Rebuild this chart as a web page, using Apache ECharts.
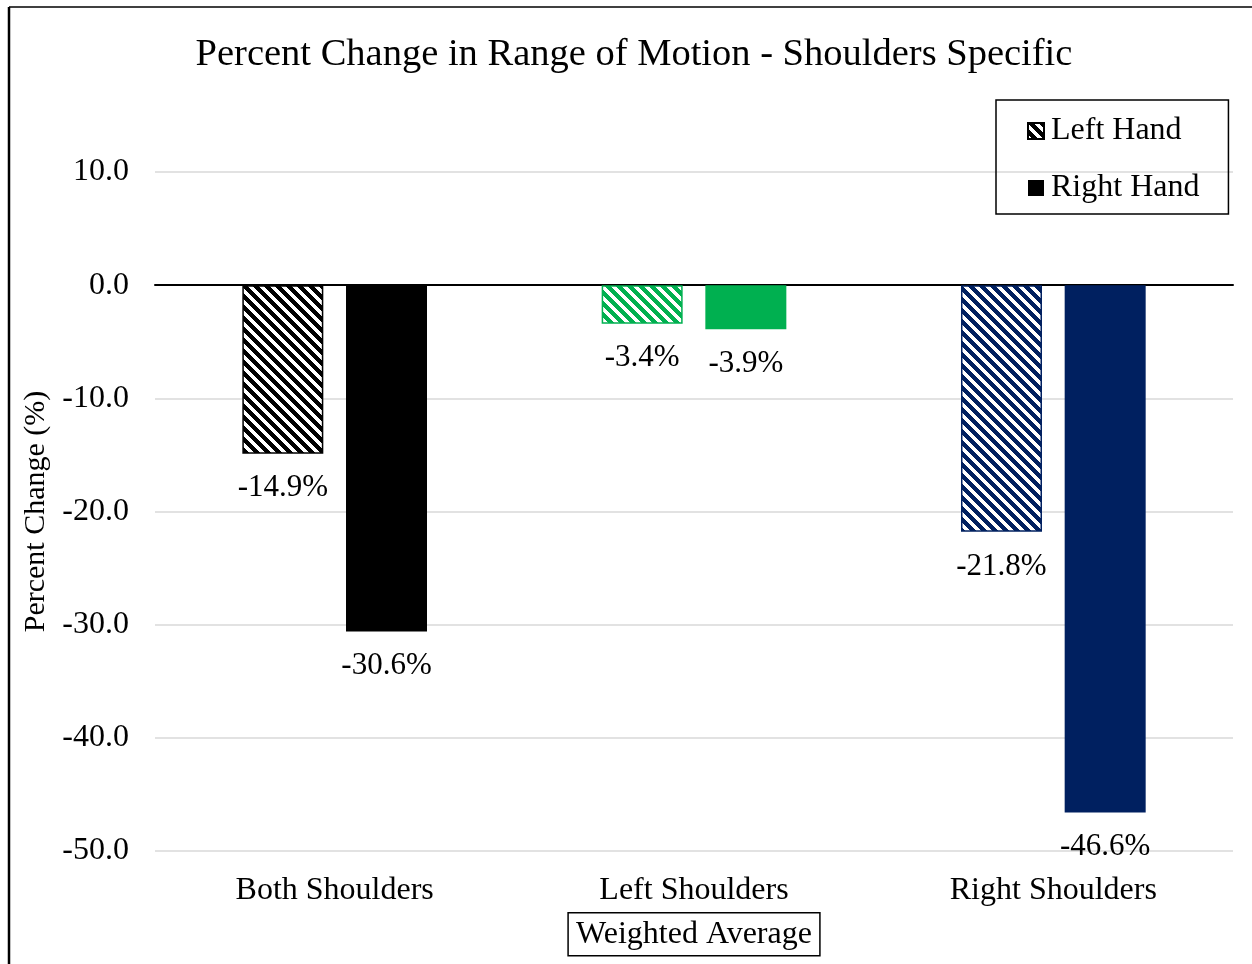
<!DOCTYPE html>
<html>
<head>
<meta charset="utf-8">
<script src="https://cdn.jsdelivr.net/npm/echarts@6/dist/echarts.min.js"></script>
<style>
  html, body { margin: 0; padding: 0; background: #fff; }
  #chart { width: 1252px; height: 964px; }
</style>
</head>
<body>
<div id="chart"></div>
<script>
// data
const categories = ['Both Shoulders', 'Left Shoulders', 'Right Shoulders']
const leftHand = [-14.9, -3.4, -21.8]
const rightHand = [-30.6, -3.9, -46.6]
const groupColors = ['#000000', '#00B050', '#002060']
const yTicks = { min: -50, max: 10, interval: 10 }

const FONT = '"Liberation Serif", "Times New Roman", serif'

// diagonal stripe fill, like Excel's wide downward diagonal
const stripes = (color) => {
  const size = 11
  const c = document.createElement('canvas')
  c.width = size
  c.height = size
  const ctx = c.getContext('2d')
  ctx.fillStyle = '#fff'
  ctx.fillRect(0, 0, size, size)
  ctx.fillStyle = color
  for (let y = 0; y < size; y++) {
    for (let x = 0; x < size; x++) {
      if ((((x - y) % size) + size) % size < 6) ctx.fillRect(x, y, 1, 1)
    }
  }
  return { image: c, repeat: 'repeat' }
}

const chart = echarts.init(document.getElementById('chart'))

const label = {
  show: true,
  position: 'bottom',
  distance: 19,
  formatter: p => p.value.toFixed(1) + '%',
  fontFamily: FONT,
  fontSize: 31,
  color: '#000'
}

const option = {
  backgroundColor: '#fff',
  animation: false,
  title: {
    text: 'Percent Change in Range of Motion - Shoulders Specific',
    left: 629,
    textAlign: 'center',
    top: 30,
    textStyle: { fontFamily: FONT, fontSize: 38.5, fontWeight: 'normal', color: '#000' }
  },
  legend: {
    orient: 'vertical',
    left: 996,
    top: 100,
    padding: [15, 29, 10, 31],
    itemGap: 25,
    itemWidth: 16,
    itemHeight: 16,
    icon: 'rect',
    borderColor: '#000',
    borderWidth: 1.5,
    textStyle: { fontFamily: FONT, fontSize: 32, color: '#000', padding: [0, 0, 0, 2] },
    data: ['Left Hand', 'Right Hand']
  },
  grid: { left: 155, right: 19, top: 172, bottom: 113 },
  xAxis: [
    {
      type: 'category',
      data: categories,
      position: 'bottom',
      axisLine: { show: false, onZero: false },
      axisTick: { show: false },
      axisLabel: { fontFamily: FONT, fontSize: 32, color: '#000', margin: 24 },
      name: 'Weighted Average',
      nameLocation: 'middle',
      nameGap: 57,
      nameTextStyle: {
        fontFamily: FONT,
        fontSize: 32,
        color: '#000',
        borderColor: '#000',
        borderWidth: 1.5,
        padding: [6, 8, 5, 8]
      }
    },
    {
      // the black line at zero
      type: 'category',
      data: categories,
      position: 'bottom',
      axisLine: { show: true, onZero: true, lineStyle: { color: '#000', width: 2 } },
      axisTick: { show: false },
      axisLabel: { show: false }
    }
  ],
  yAxis: {
    type: 'value',
    min: yTicks.min,
    max: yTicks.max,
    interval: yTicks.interval,
    axisLine: { show: false },
    axisTick: { show: false },
    axisLabel: {
      fontFamily: FONT,
      fontSize: 32,
      color: '#000',
      margin: 26,
      formatter: v => v.toFixed(1)
    },
    splitLine: { lineStyle: { color: '#d9d9d9', width: 1.5 } },
    name: 'Percent Change (%)',
    nameLocation: 'middle',
    nameGap: 104,
    nameTextStyle: { fontFamily: FONT, fontSize: 30, color: '#000' }
  },
  series: [
    {
      name: 'Left Hand',
      type: 'bar',
      barWidth: 81,
      barGap: '28%',
      itemStyle: { color: stripes('#000'), borderColor: '#000', borderWidth: 1.5 },
      label,
      data: leftHand.map((v, i) => ({
        value: v,
        itemStyle: { color: stripes(groupColors[i]), borderColor: groupColors[i], borderWidth: 1.5 }
      }))
    },
    {
      name: 'Right Hand',
      type: 'bar',
      barWidth: 81,
      itemStyle: { color: '#000' },
      label,
      data: rightHand.map((v, i) => ({
        value: v,
        itemStyle: { color: groupColors[i] }
      }))
    }
  ],
  graphic: [
    // frame edges left over from the cropped original
    { type: 'line', shape: { x1: 9, y1: 7, x2: 9, y2: 964 }, style: { stroke: '#000', lineWidth: 2.5 } },
    { type: 'line', shape: { x1: 9, y1: 7, x2: 1252, y2: 7 }, style: { stroke: '#000', lineWidth: 1.5 } }
  ]
}

chart.setOption(option)
</script>
</body>
</html>
